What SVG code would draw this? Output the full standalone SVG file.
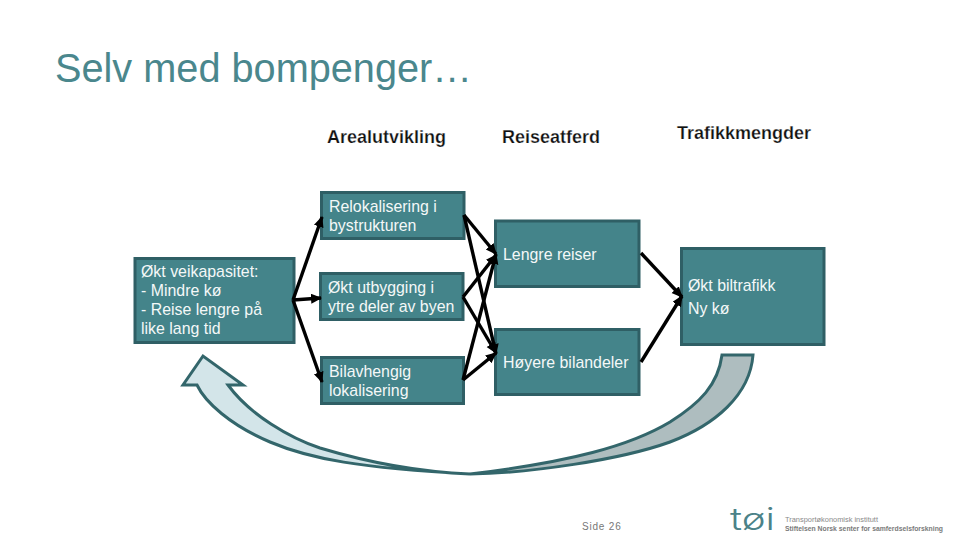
<svg xmlns="http://www.w3.org/2000/svg" width="960" height="540" viewBox="0 0 960 540">
<style>
text{font-family:"Liberation Sans",Arial,sans-serif}
.box{fill:#44848a;stroke:#2f5f65;stroke-width:3}
.bt{fill:#f4f8f8;font-size:15.900px}
.hd{fill:#111;font-size:18px;font-weight:bold;stroke:#fff;stroke-width:.25px}
.c{stroke:#000;stroke-width:3.4;fill:none;marker-end:url(#a)}
.sw{stroke:#33666b;stroke-width:3;stroke-linejoin:miter}
</style>
<defs>
<marker id="a" markerUnits="userSpaceOnUse" markerWidth="12" markerHeight="12" refX="10" refY="5" orient="auto"><path d="M0 0L11 5L0 10Z" fill="#000"/></marker>
</defs>
<rect width="960" height="540" fill="#fff"/>
<text x="55" y="82" font-size="40" fill="#4a878d" textLength="417" lengthAdjust="spacingAndGlyphs">Selv med bompenger…</text>
<text class="hd" x="327" y="143">Arealutvikling</text>
<text class="hd" x="502" y="143">Reiseatferd</text>
<text class="hd" x="677" y="139">Trafikkmengder</text>
<g id="swoosh">
<path class="sw" fill="#d3e5e9" d="M203 356L183 385H197C205 402 230 425 270 442C310 459 360 468 470 474C420 472 370 463 320 448C290 438 250 415 228 385H243Z"/>
<path class="sw" fill="#aebdbf" d="M470 474C530 473 620 460 670 442C715 425 750 395 753 355H722C718 385 700 403 670 422C630 446 570 462 470 474Z"/>
</g>
<g id="n-veikapasitet"><rect class="box" x="135" y="258.500" width="159" height="84"/>
<text class="bt" x="141" y="277">Økt veikapasitet:</text><text class="bt" x="141" y="296">- Mindre kø</text><text class="bt" x="141" y="315">- Reise lengre på</text><text class="bt" x="141" y="334">like lang tid</text></g>
<g id="n-relokalisering"><rect class="box" x="321.500" y="192.500" width="142.500" height="46"/>
<text class="bt" x="329" y="212">Relokalisering i</text><text class="bt" x="329" y="231">bystrukturen</text></g>
<g id="n-utbygging"><rect class="box" x="320.500" y="273.500" width="142.500" height="46"/>
<text class="bt" x="328" y="293">Økt utbygging i</text><text class="bt" x="328" y="312">ytre deler av byen</text></g>
<g id="n-bilavhengig"><rect class="box" x="321.500" y="357.500" width="142" height="46"/>
<text class="bt" x="329" y="377">Bilavhengig</text><text class="bt" x="329" y="396">lokalisering</text></g>
<g id="n-lengre"><rect class="box" x="495.500" y="221" width="143.500" height="65.500"/>
<text class="bt" x="503" y="260">Lengre reiser</text></g>
<g id="n-bilandeler"><rect class="box" x="495.500" y="329.500" width="143.500" height="65"/>
<text class="bt" x="503" y="368">Høyere bilandeler</text></g>
<g id="n-biltrafikk"><rect class="box" x="681.500" y="248.500" width="142.500" height="96"/>
<text class="bt" x="688" y="291">Økt biltrafikk</text><text class="bt" x="688" y="314">Ny kø</text></g>
<g id="connectors">
<path class="c" d="M293 300L322 217"/>
<path class="c" d="M293 300L321 298"/>
<path class="c" d="M293 300L322 382"/>
<path class="c" d="M464 215L496 254"/>
<path class="c" d="M464 215L496 354"/>
<path class="c" d="M463 297L496 255"/>
<path class="c" d="M463 297L496 353"/>
<path class="c" d="M463 380L496 254"/>
<path class="c" d="M463 380L496 353"/>
<path class="c" d="M641 253L682 297"/>
<path class="c" d="M641 362L682 296"/>
</g>
<text x="582" y="530" font-size="10" fill="#777" letter-spacing=".8">Side 26</text>
<g id="logo">
<text x="730" y="530" font-size="31" fill="#4b8288" font-family="Inter" textLength="45" lengthAdjust="spacingAndGlyphs" style="font-family:Inter,sans-serif;font-weight:300">tøi</text>
<text x="785" y="522" font-size="6.800" fill="#8a8a8a" textLength="93" lengthAdjust="spacingAndGlyphs">Transportøkonomisk institutt</text>
<text x="785" y="531" font-size="6.800" fill="#7a7a7a" font-weight="bold" textLength="158" lengthAdjust="spacingAndGlyphs">Stiftelsen Norsk senter for samferdselsforskning</text>
</g>
</svg>
